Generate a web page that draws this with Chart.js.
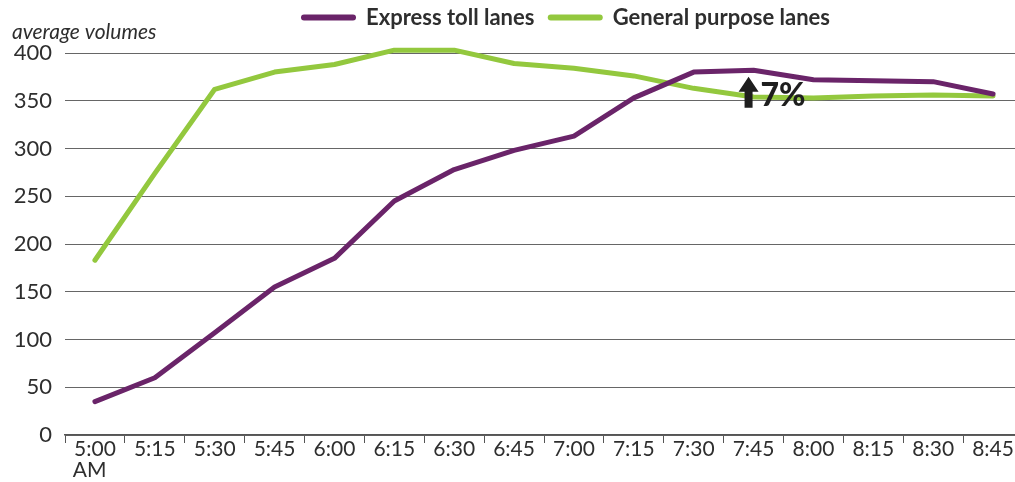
<!DOCTYPE html>
<html>
<head>
<meta charset="utf-8">
<script src="https://cdn.jsdelivr.net/npm/chart.js@4/dist/chart.umd.min.js"></script>
<style>
  html, body { margin: 0; padding: 0; background: #fff; overflow: hidden; }
  #wrap { position: absolute; left: 0; top: 0; width: 1024px; height: 482px; }
</style>
</head>
<body>
<div id="wrap"><canvas id="chart"></canvas></div>
<script>
// Time slots (15-minute intervals)
const timeLabels = [['5:00', 'AM  '], '5:15', '5:30', '5:45', '6:00', '6:15', '6:30', '6:45',
  '7:00', '7:15', '7:30', '7:45', '8:00', '8:15', '8:30', '8:45'];

// Average volumes per slot
const expressTollLanes = [35, 60, 107, 155, 185, 245, 278, 298, 313, 353, 380, 382, 372, 371, 370, 357];
const generalPurposeLanes = [183, 274, 362, 380, 388, 403, 403, 389, 384, 376, 363, 354, 353, 355, 356, 355];

const seriesNames = ['Express toll lanes', 'General purpose lanes'];
const seriesColors = ['#6a2469', '#93c83e'];

const yTicks = [0, 50, 100, 150, 200, 250, 300, 350, 400];
const yAxisTitle = 'average volumes';

// Change callout placed at the 7:45 slot
const calloutText = '7%';
const calloutIndex = 11;
const calloutValue = 370;

const FONT = 'Lato, "Noto Sans", sans-serif';
const TEXT = '#2e2e2e';

// Legend across the top, drawn as rounded line swatches with bold labels
const topLegend = {
  id: 'topLegend',
  afterDraw(chart) {
    const ctx = chart.ctx;
    ctx.save();
    ctx.font = 'bold 22px ' + FONT;
    const sw = 55, gap = 10;
    const y = 17.5;
    const starts = [301, 830 - sw - gap - ctx.measureText(seriesNames[1]).width];
    seriesNames.forEach((name, i) => {
      const x = starts[i];
      ctx.strokeStyle = seriesColors[i];
      ctx.lineWidth = 6;
      ctx.lineCap = 'round';
      ctx.beginPath();
      ctx.moveTo(x + 3, y);
      ctx.lineTo(x + sw - 3, y);
      ctx.stroke();
      ctx.fillStyle = TEXT;
      ctx.textBaseline = 'middle';
      ctx.textAlign = 'left';
      ctx.fillText(name, x + sw + gap, y);
    });
    // y-axis caption
    ctx.font = 'italic 21px ' + FONT;
    ctx.textBaseline = 'alphabetic';
    ctx.fillText(yAxisTitle, 12, 39);
    ctx.restore();
  }
};

// Up-arrow with percentage next to it
const changeCallout = {
  id: 'changeCallout',
  afterDatasetsDraw(chart) {
    const ctx = chart.ctx;
    const xs = chart.scales.x, ys = chart.scales.y;
    const cx = xs.getPixelForValue(calloutIndex) - 5;
    const cy = ys.getPixelForValue(calloutValue);
    ctx.save();
    ctx.fillStyle = '#1e1e1e';
    const tip = cy - 5, headBase = tip + 15, bottom = tip + 31;
    ctx.beginPath();
    ctx.moveTo(cx, tip);
    ctx.lineTo(cx + 10, headBase);
    ctx.lineTo(cx + 4, headBase);
    ctx.lineTo(cx + 4, bottom);
    ctx.lineTo(cx - 4, bottom);
    ctx.lineTo(cx - 4, headBase);
    ctx.lineTo(cx - 10, headBase);
    ctx.closePath();
    ctx.fill();
    ctx.font = '900 32px ' + FONT;
    ctx.textBaseline = 'alphabetic';
    ctx.textAlign = 'left';
    ctx.fillText(calloutText, cx + 12, bottom - 2);
    ctx.restore();
  }
};

new Chart(document.getElementById('chart'), {
  type: 'line',
  data: {
    labels: timeLabels,
    datasets: [
      { label: seriesNames[0], data: expressTollLanes, borderColor: seriesColors[0], backgroundColor: seriesColors[0], clip: false },
      { label: seriesNames[1], data: generalPurposeLanes, borderColor: seriesColors[1], backgroundColor: seriesColors[1], clip: false }
    ]
  },
  options: {
    responsive: true,
    maintainAspectRatio: false,
    animation: false,
    layout: { padding: { top: 53, right: 1, left: 0, bottom: 0 } },
    elements: {
      line: { borderWidth: 5, tension: 0, borderCapStyle: 'round', borderJoinStyle: 'round' },
      point: { radius: 0, hoverRadius: 0 }
    },
    plugins: {
      legend: { display: false },
      tooltip: { enabled: false }
    },
    scales: {
      x: {
        offset: true,
        afterFit(scale) { scale.height = 47; },
        grid: {
          offset: true,
          drawOnChartArea: false,
          drawTicks: true,
          tickLength: 8,
          color: '#555'
        },
        border: { display: true, color: '#555', width: 1.5 },
        ticks: {
          color: TEXT,
          font: { family: FONT, size: 21, lineHeight: 1.0 },
          padding: -4,
          maxRotation: 0,
          autoSkip: false
        }
      },
      y: {
        min: 0,
        max: 400,
        afterFit(scale) { scale.width = 65; },
        afterBuildTicks(scale) { scale.ticks = yTicks.map(v => ({ value: v })); },
        grid: { color: '#666', lineWidth: 1, drawTicks: false },
        border: { display: false },
        ticks: {
          color: TEXT,
          font: { family: FONT, size: 22 },
          padding: 13
        }
      }
    }
  },
  plugins: [topLegend, changeCallout]
});
</script>
</body>
</html>
